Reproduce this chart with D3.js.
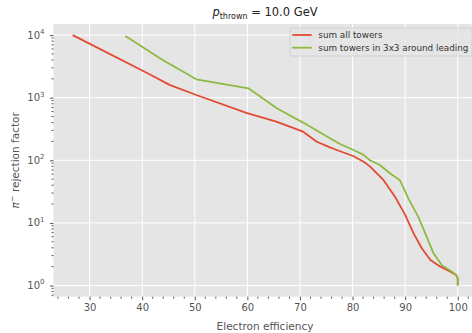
<!DOCTYPE html>
<html><head><meta charset="utf-8">
<script src="https://cdn.jsdelivr.net/npm/d3@7"></script>
<style>body{margin:0;background:#fff}svg{display:block;font-family:"DejaVu Sans",sans-serif}</style>
</head><body>
<svg id="c" width="472" height="333"></svg>
<script>
const redEff = [26.8, 41.4, 45.2, 50.3, 59.8, 65.5, 70.6, 73.2, 75.7, 77, 80.2, 82.1, 83.3, 85.9, 88.1, 90, 91.6, 93.2, 94.8, 96.7, 98.6, 99.7, 100, 100];
const redVal = [10000, 2366, 1600, 1105, 570, 414, 286, 198, 161, 146, 116, 95, 80, 48, 26, 13.4, 6.8, 3.9, 2.55, 2.0, 1.66, 1.47, 1.3, 1.0];
const greenEff = [36.8, 43.9, 50.3, 60.2, 65.6, 70.6, 75.7, 77.6, 80.2, 82.1, 83.3, 85.2, 87.1, 89, 90.6, 92.5, 94.1, 95.4, 97, 98.9, 99.7, 100, 100];
const greenVal = [9700, 4000, 1968, 1413, 677, 400, 225, 182, 146, 122, 100, 84, 62, 48, 24.7, 12.5, 6.0, 3.27, 2.1, 1.66, 1.47, 1.3, 1.0];
const xTicks = [30, 40, 50, 60, 70, 80, 90, 100];
const yTicks = [1, 10, 100, 1000, 10000];
const seriesNames = ["sum all towers", "sum towers in 3x3 around leading"];
const colors = ["#E24A33", "#8EBA42"];

const svg = d3.select("#c");
const L = 53.5, T = 24, R = 477, B = 296.7;
const x = d3.scaleLinear().domain([23.14, 103.66]).range([L, R]);
const y = d3.scaleLog().domain([Math.pow(10, -0.179), Math.pow(10, 4.177)]).range([B, T]);

svg.append("rect").attr("x", L).attr("y", T).attr("width", R - L).attr("height", B - T).attr("fill", "#E5E5E5");

// grid
svg.append("g").selectAll("line").data(xTicks).join("line")
  .attr("x1", d => x(d)).attr("x2", d => x(d)).attr("y1", T).attr("y2", B)
  .attr("stroke", "#fff").attr("stroke-width", 1);
svg.append("g").selectAll("line").data(yTicks).join("line")
  .attr("y1", d => y(d)).attr("y2", d => y(d)).attr("x1", L).attr("x2", R)
  .attr("stroke", "#fff").attr("stroke-width", 1);

// x axis
const xMinor = d3.range(24, 104, 2).filter(v => v % 10 !== 0);
const xAxis = d3.axisBottom(x).tickValues(xTicks).tickSize(3.5).tickPadding(4);
const gx = svg.append("g").attr("transform", `translate(0,${B})`).call(xAxis);
gx.select(".domain").remove();
gx.selectAll("line").attr("stroke", "#555");
gx.selectAll("text").attr("fill", "#555").attr("font-size", 10).attr("font-family", "DejaVu Sans");
svg.append("g").attr("transform", `translate(0,${B})`).selectAll("line").data(xMinor).join("line")
  .attr("x1", d => x(d)).attr("x2", d => x(d)).attr("y1", 0).attr("y2", 2).attr("stroke", "#555");

// y axis
const yAxis = d3.axisLeft(y).tickValues(yTicks).tickSize(3.5).tickPadding(4).tickFormat(() => "");
const gy = svg.append("g").attr("transform", `translate(${L},0)`).call(yAxis);
gy.select(".domain").remove();
gy.selectAll("line").attr("stroke", "#555");
const yMinor = [];
[0.1, 1, 10, 100, 1000, 10000].forEach(b => { for (let k = 2; k <= 9; k++) { const v = b * k; if (v >= y.domain()[0] && v <= y.domain()[1]) yMinor.push(v); } });
svg.append("g").attr("transform", `translate(${L},0)`).selectAll("line").data(yMinor).join("line")
  .attr("y1", d => y(d)).attr("y2", d => y(d)).attr("x1", 0).attr("x2", -2).attr("stroke", "#555");
const yl = svg.append("g").selectAll("text").data(yTicks).join("text")
  .attr("x", L - 9).attr("y", d => y(d) + 3.5).attr("text-anchor", "end")
  .attr("fill", "#555").attr("font-size", 10);
yl.append("tspan").text("10");
yl.append("tspan").attr("dy", -4.5).attr("font-size", 7).text(d => Math.round(Math.log10(d)));

// lines
const line = d3.line().x(d => x(d[0])).y(d => y(d[1]));
const series = [d3.zip(redEff, redVal), d3.zip(greenEff, greenVal)];
svg.append("defs").append("clipPath").attr("id", "clip").append("rect")
  .attr("x", L).attr("y", T).attr("width", R - L).attr("height", B - T);
svg.append("g").attr("clip-path", "url(#clip)").selectAll("path").data(series).join("path")
  .attr("d", line).attr("fill", "none").attr("stroke", (d, i) => colors[i]).attr("stroke-width", 1.8)
  .attr("stroke-linejoin", "round");

// title
const title = svg.append("text").attr("x", 265).attr("y", 16).attr("text-anchor", "middle")
  .attr("font-size", 11.5).attr("fill", "#222");
title.append("tspan").attr("font-style", "italic").text("p");
title.append("tspan").attr("font-size", 8).attr("dy", 2.5).text("thrown");
title.append("tspan").attr("dy", -2.5).text(" = 10.0 GeV");

// axis labels
svg.append("text").attr("x", 265).attr("y", 330).attr("text-anchor", "middle")
  .attr("font-size", 10.5).attr("fill", "#555").text("Electron efficiency");
const ylab = svg.append("text").attr("transform", `translate(19,${(T + B) / 2}) rotate(-90)`)
  .attr("text-anchor", "middle").attr("font-size", 10.5).attr("fill", "#555");
ylab.append("tspan").attr("font-style", "italic").text("π");
ylab.append("tspan").attr("dy", -4).attr("font-size", 8).text("−");
ylab.append("tspan").attr("dy", 4).text(" rejection factor");

// legend
const lg = svg.append("g");
lg.append("rect").attr("x", 290).attr("y", 28).attr("width", 182).attr("height", 28).attr("rx", 2)
  .attr("fill", "#E5E5E5").attr("fill-opacity", 0.8).attr("stroke", "#CCCCCC").attr("stroke-width", 0.8);
seriesNames.forEach((n, i) => {
  const yy = 35 + i * 12.7;
  lg.append("line").attr("x1", 292.3).attr("x2", 311.7).attr("y1", yy).attr("y2", yy)
    .attr("stroke", colors[i]).attr("stroke-width", 1.8);
  lg.append("text").attr("x", 318.3).attr("y", yy + 3.2).attr("font-size", 8.8).attr("fill", "#333").text(n);
});
</script>
</body></html>
